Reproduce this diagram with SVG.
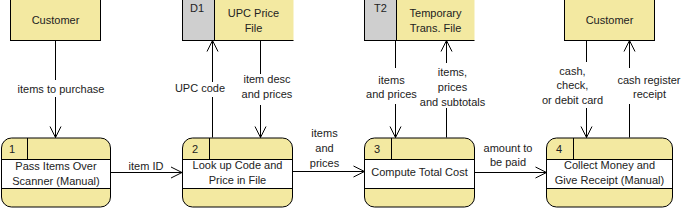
<svg xmlns="http://www.w3.org/2000/svg" width="681" height="209" viewBox="0 0 681 209">
<style>
text{font-family:"Liberation Sans",Arial,sans-serif;font-size:11px;fill:#222;text-anchor:middle}
.y{fill:#f3e9a1;stroke:#000;stroke-width:1}
.w{fill:#fff;stroke:#000;stroke-width:1}
.g{fill:#cfcfcf;stroke:#000;stroke-width:1}
.ln{fill:none;stroke:#000;stroke-width:1}
.c{fill:none;stroke:#000;stroke-width:1;marker-end:url(#ah)}
.bg{fill:#fff}
.n{text-anchor:start}
</style>
<defs>
<marker id="ah" markerUnits="userSpaceOnUse" markerWidth="13" markerHeight="12" refX="11" refY="5.5" orient="auto" overflow="visible">
<path d="M0,0 L11,5.5 L0,11" fill="none" stroke="#000" stroke-width="1"/>
</marker>
</defs>

<g id="connectors">
<line class="c" x1="55.5" y1="40.5" x2="55.5" y2="137.5"/>
<line class="c" x1="212.5" y1="137.5" x2="212.5" y2="40.5"/>
<line class="c" x1="260.5" y1="40.5" x2="260.5" y2="137.5"/>
<line class="c" x1="110" y1="172.5" x2="182" y2="172.5"/>
<line class="c" x1="292" y1="171.5" x2="364.5" y2="171.5"/>
<line class="c" x1="395.5" y1="40.5" x2="395.5" y2="137.5"/>
<line class="c" x1="446.5" y1="137.5" x2="446.5" y2="40.5"/>
<line class="c" x1="474.5" y1="172.5" x2="546.5" y2="172.5"/>
<line class="c" x1="586.5" y1="40.5" x2="586.5" y2="137.5"/>
<line class="c" x1="629.5" y1="137.5" x2="629.5" y2="40.5"/>

<rect class="bg" x="16" y="80" width="91" height="17"/>
<text x="61" y="93">items to purchase</text>

<rect class="bg" x="174" y="82" width="52" height="15"/>
<text x="200" y="92">UPC code</text>

<rect class="bg" x="241" y="74" width="52" height="31"/>
<text x="267" y="83">item desc</text>
<text x="267" y="98">and prices</text>

<text x="146" y="169.5">item ID</text>

<text x="324.5" y="137">items</text>
<text x="324.5" y="152">and</text>
<text x="324.5" y="167">prices</text>

<rect class="bg" x="365" y="68" width="53" height="36"/>
<text x="391.5" y="84">items</text>
<text x="391.5" y="98">and prices</text>

<rect class="bg" x="418" y="63" width="70" height="45"/>
<text x="452.5" y="76">items,</text>
<text x="452.5" y="91">prices</text>
<text x="452.5" y="106">and subtotals</text>

<text x="508" y="151.5">amount to</text>
<text x="508" y="166">be paid</text>

<rect class="bg" x="540" y="62" width="66" height="46"/>
<text x="572.5" y="74.5">cash,</text>
<text x="572.5" y="89">check,</text>
<text x="572.5" y="104">or debit card</text>

<rect class="bg" x="617" y="68" width="64" height="36"/>
<text x="649" y="84">cash register</text>
<text x="649.5" y="98">receipt</text>
</g>

<g id="customer1">
<rect class="y" x="10.5" y="-1" width="90" height="41.5"/>
<text x="55.5" y="24">Customer</text>
</g>

<g id="customer2">
<rect class="y" x="564.5" y="-1" width="90" height="41.5"/>
<text x="609.5" y="24">Customer</text>
</g>

<g id="d1">
<rect x="214.5" y="-1" width="79" height="41.5" fill="#f3e9a1"/>
<rect class="g" x="182.5" y="-1" width="32" height="41.5"/>
<path class="ln" d="M214.5,-1 H293.5 M182.5,40.5 H293.5"/>
<text x="197" y="12">D1</text>
<text x="253.5" y="17">UPC Price</text>
<text x="253.5" y="32">File</text>
</g>

<g id="t2">
<rect x="396.5" y="-1" width="78" height="41.5" fill="#f3e9a1"/>
<rect class="g" x="364.5" y="-1" width="32" height="41.5"/>
<path class="ln" d="M396.5,-1 H474.5 M364.5,40.5 H474.5"/>
<text x="380.5" y="12">T2</text>
<text x="435.5" y="17">Temporary</text>
<text x="435.5" y="32">Trans. File</text>
</g>

<g id="p1">
<rect class="y" x="1.5" y="138" width="109" height="69" rx="10"/>
<rect class="w" x="1.5" y="159.5" width="109" height="29"/>
<line class="ln" x1="27.5" y1="138" x2="27.5" y2="159.5"/>
<text class="n" x="9" y="152.5">1</text>
<text x="56" y="170">Pass Items Over</text>
<text x="56" y="185">Scanner (Manual)</text>
</g>

<g id="p2">
<rect class="y" x="182.5" y="138" width="110" height="69" rx="10"/>
<rect class="w" x="182.5" y="159.5" width="110" height="29"/>
<line class="ln" x1="209.5" y1="138" x2="209.5" y2="159.5"/>
<text class="n" x="192" y="152.5">2</text>
<text x="237.5" y="169">Look up Code and</text>
<text x="237.5" y="184">Price in File</text>
</g>

<g id="p3">
<rect class="y" x="364.5" y="138" width="110" height="69" rx="10"/>
<rect class="w" x="364.5" y="159.5" width="110" height="29"/>
<line class="ln" x1="391.5" y1="138" x2="391.5" y2="159.5"/>
<text class="n" x="374" y="152.5">3</text>
<text x="419.5" y="176">Compute Total Cost</text>
</g>

<g id="p4">
<rect class="y" x="546.5" y="138" width="126" height="69" rx="10"/>
<rect class="w" x="546.5" y="159.5" width="126" height="29"/>
<line class="ln" x1="573.5" y1="138" x2="573.5" y2="159.5"/>
<text class="n" x="556" y="152.5">4</text>
<text x="609.5" y="169">Collect Money and</text>
<text x="609.5" y="184">Give Receipt (Manual)</text>
</g>
</svg>
